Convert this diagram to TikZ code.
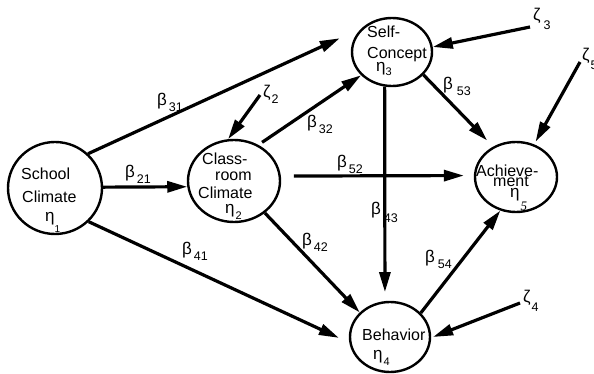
\documentclass[tikz,border=0pt]{standalone}
\usepackage{fontspec}
\setmainfont{Liberation Sans}
\newfontfamily\serifface{Liberation Serif}
\usetikzlibrary{shapes.geometric,arrows.meta}
\newcommand\subs[3]{\raisebox{-#1}{\fontsize{#2}{#2}\selectfont #3}}
\begin{document}
\begin{tikzpicture}[x=1pt,y=-1pt,
  latent/.style={draw, ellipse, line width=2.4pt, inner sep=0pt},
  conn/.style={line width=3.2pt, -{Triangle[length=20pt,width=11pt]}},
  lbl/.style={inner sep=0pt, anchor=north west, font=\fontsize{17}{17}\selectfont},
  txt/.style={inner sep=0pt, anchor=base west, font=\fontsize{16}{16}\selectfont}]
\useasboundingbox (0,0) rectangle (594,374);

% latent variables
\node[latent, minimum width=94pt, minimum height=92pt] (sc) at (55,188) {};
\node[latent, minimum width=92pt, minimum height=82pt] (cc) at (234,181) {};
\node[latent, minimum width=80pt, minimum height=68pt] (sf) at (392,52) {};
\node[latent, minimum width=82pt, minimum height=70pt] (ac) at (516,177) {};
\node[latent, minimum width=80pt, minimum height=70pt] (bh) at (390,337) {};

% texts in the circles
\node[txt] (t1a) at (21,180) {School};
\node[txt] (t1b) at (22,203) {Climate};
\node[lbl] (e1) at (45,212) {η\subs{11pt}{10}{1}};
\node[txt] (t2a) at (202,165) {Class-};
\node[txt] (t2b) at (215,181) {room};
\node[txt] (t2c) at (198,199) {Climate};
\node[lbl] (e2) at (225,204) {η\kern1pt\subs{6pt}{11}{2}};
\node[txt] (t3a) at (367,38) {Self-};
\node[txt] (t3b) at (367,59) {Concept};
\node[lbl] (e3) at (376,62) {η\subs{4pt}{11}{3}};
\node[txt] (t5a) at (476,177) {Achieve-};
\node[txt] (t5b) at (493,187) {ment};
\node[lbl] (e5) at (510,188) {η\kern1pt\subs{13pt}{13}{\serifface\itshape 5}};
\node[txt] (t4a) at (362,340) {Behavior};
\node[lbl] (e4) at (373,350) {η\kern1pt\subs{6pt}{11}{4}};

% disturbance labels
\node[lbl] (z2) at (263,85) {ζ\kern1pt\subs{5.5pt}{12.5}{2}};
\node[lbl] (z3) at (533,8) {ζ\kern3pt\subs{9pt}{12.5}{3}};
\node[lbl] (z5) at (582,48) {ζ\kern1pt\subs{9pt}{12.5}{5}};
\node[lbl] (z4) at (523,290) {ζ\kern1pt\subs{9pt}{12.5}{4}};
\coordinate (z2s) at (260,95);
\coordinate (z3s) at (530,27);
\coordinate (z5s) at (580,62);
\coordinate (z4s) at (520,303);

% structural paths
\draw[conn, shorten >=24pt] (sc.46.7) -- (sf.142.5);
\draw[conn] (sc.1.2) -- (cc.187.6);
\draw[conn, shorten >=11.5pt] (sc.-45.8) -- (bh.188.4);
\draw[conn, shorten <=4.5pt] (cc.56.3) -- (sf.217.5);
\draw[conn, shorten <=13pt, shorten >=10pt] (cc.6.2) -- (ac.178.6);
\draw[conn] (cc.-46) -- (bh.141.3);
\draw[conn, shorten >=9pt] (sf.258.7) -- (bh.98);
\draw[conn, shorten >=8.5pt] (sf.-36.6) -- (ac.127.2);
\draw[conn] (bh.38.9) -- (ac.245.4);

% disturbance arrows
\draw[conn] (z2s) -- (cc.98);
\draw[conn] (z3s) -- (sf.7);
\draw[conn, shorten >=3pt] (z5s) -- (ac.61.6);
\draw[conn, shorten >=2pt] (z4s) -- (bh.-1.4);

% path labels
\node[lbl] (b31) at (157,93) {β\kern2pt\subs{6pt}{12.5}{31}};
\node[lbl] (b21) at (125,165) {β\kern2pt\subs{6pt}{12.5}{21}};
\node[lbl] (b41) at (182,242) {β\kern2pt\subs{6pt}{12.5}{41}};
\node[lbl] (b32) at (307,115) {β\kern2pt\subs{6pt}{12.5}{32}};
\node[lbl] (b52) at (337,155) {β\kern2pt\subs{6pt}{12.5}{52}};
\node[lbl] (b43) at (371,202) {β\kern3pt\subs{7.5pt}{12.5}{43}};
\node[lbl] (b42) at (302,233) {β\kern2pt\subs{6pt}{12.5}{42}};
\node[lbl] (b54) at (425,250) {β\kern3pt\subs{6pt}{12.5}{54}};
\node[lbl] (b53) at (443,77) {β\kern4pt\subs{6pt}{12.5}{53}};
\end{tikzpicture}
\end{document}
